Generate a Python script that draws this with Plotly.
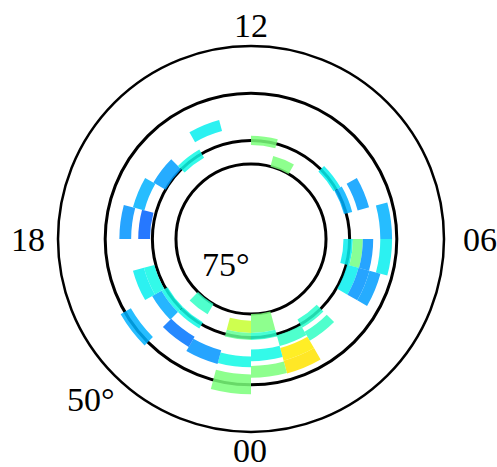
import plotly.graph_objects as go

# Binned patches: MLT bin start (h), poleward / equatorward latitude edges (deg), normalised value
mlt_start = [13, 11, 10, 8, 7, 7, 6, 5, 5, 5, 5, 4, 4, 4, 2, 2, 1, 1, 1,
             0, 0, 0, 0, 23, 23, 23, 23, 22, 21, 21, 21, 20, 20, 20,
             19, 19, 17, 17, 16, 15, 14]
lat_poleward = [67.2, 71.0, 75.0, 70.7, 70.5, 67.5, 63.5, 63.5, 71.3, 69.3, 67.2,
                69.8, 67.3, 64.9, 71.2, 68.2, 69.8, 67.0, 64.2,
                75.0, 71.0, 67.5, 64.0, 73.6, 71.0, 66.0, 62.2, 66.5, 67.0,
                75.0, 70.5, 70.5, 69.0, 61.5, 69.7, 67.4, 65.5, 69.5, 67.5,
                70.0, 71.0]
lat_equatorward = [64.8, 69.0, 72.7, 69.0, 68.7, 65.0, 61.0, 61.0, 69.3, 67.2, 65.0,
                   67.3, 64.9, 62.5, 69.2, 66.0, 67.4, 64.2, 61.4,
                   71.0, 69.5, 65.0, 61.5, 71.0, 69.5, 63.7, 58.0, 63.5, 64.5,
                   72.5, 69.0, 69.0, 66.7, 59.0, 67.4, 65.0, 63.0, 67.0, 65.0,
                   67.0, 69.0]
value = [0.36, 0.50, 0.50, 0.36, 0.30, 0.28, 0.30, 0.36, 0.36, 0.49, 0.27,
         0.36, 0.27, 0.28, 0.40, 0.41, 0.41, 0.66, 0.67,
         0.50, 0.40, 0.37, 0.50, 0.59, 0.47, 0.37, 0.50, 0.27, 0.24,
         0.41, 0.37, 0.37, 0.29, 0.30, 0.37, 0.36, 0.27, 0.22, 0.30,
         0.28, 0.37]

hour_labels = ["00", "06", "12", "18"]
lat_rings = [75, 70, 60]
lat_limit = 50

# matplotlib-style jet
jet = [
    [0.0, "rgb(0,0,127)"], [0.11, "rgb(0,0,255)"], [0.125, "rgb(0,0,255)"],
    [0.34, "rgb(0,219,255)"], [0.35, "rgb(0,229,247)"], [0.375, "rgb(20,255,226)"],
    [0.5, "rgb(123,255,123)"], [0.64, "rgb(239,255,8)"], [0.66, "rgb(255,236,0)"],
    [0.89, "rgb(255,19,0)"], [0.91, "rgb(232,0,0)"], [1.0, "rgb(128,0,0)"],
]

colat_base = [90 - lat for lat in lat_poleward]
colat_len = [lp - le for lp, le in zip(lat_poleward, lat_equatorward)]
theta = [(m + 0.5) * 15 for m in mlt_start]

fig = go.Figure()
fig.add_trace(go.Barpolar(
    r=colat_len,
    base=colat_base,
    theta=theta,
    width=[15] * len(theta),
    marker=dict(color=value, colorscale=jet, cmin=0, cmax=1, line=dict(width=0)),
    opacity=0.85,
    showlegend=False,
    hoverinfo="skip",
))

serif = "Liberation Serif, Times New Roman, serif"
label_font = dict(family=serif, size=34, color="black")

# hour labels around the rim and latitude labels (paper coordinates)
label_pos = {
    "00": (0.497, -0.049),
    "06": (1.093, 0.5),
    "12": (0.5, 1.054),
    "18": (-0.078, 0.5),
    f"{lat_rings[0]}°": (0.435, 0.433),
    f"{lat_limit}°": (0.0855, 0.083),
}
annotations = [
    dict(text=t, x=x, y=y, xref="paper", yref="paper", xanchor="center",
         yanchor="middle", showarrow=False, font=label_font)
    for t, (x, y) in label_pos.items()
]

fig.update_layout(
    width=497, height=467,
    margin=dict(l=58, r=53, t=46, b=35),
    paper_bgcolor="white",
    showlegend=False,
    polar=dict(
        bgcolor="white",
        domain=dict(x=[0, 1], y=[0, 1]),
        radialaxis=dict(
            range=[-0.9, 90 - lat_limit],
            tickvals=[90 - l for l in lat_rings],
            showticklabels=False, ticks="", showline=False,
            gridcolor="black", gridwidth=2.5,
        ),
        angularaxis=dict(
            rotation=270, direction="counterclockwise",
            tickvals=[0, 90, 180, 270], showticklabels=False,
            showgrid=False, showline=True, linecolor="black", linewidth=2.5,
            ticks="",
        ),
    ),
    annotations=annotations,
)

fig.write_html("out.html")
